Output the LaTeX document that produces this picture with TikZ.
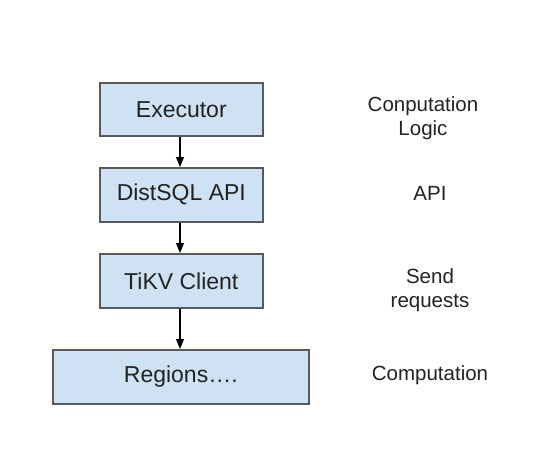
\documentclass[tikz,border=0pt]{standalone}
\usepackage{fontspec}
\setmainfont{Liberation Sans}
\usetikzlibrary{arrows.meta}
\definecolor{boxfill}{HTML}{CFE2F3}
\definecolor{boxline}{HTML}{595959}
\definecolor{txt}{HTML}{222222}
\tikzset{
  layerbox/.style={draw=boxline, line width=1.6pt, fill=boxfill, inner sep=0pt, anchor=north west, text=txt, font=\fontsize{23}{27}\selectfont},
  sidelabel/.style={align=center, text=txt, font=\fontsize{20.5}{23.5}\selectfont, inner sep=0pt},
  flow/.style={-{Triangle[length=10pt,width=8pt]}, line width=1.1pt, black}
}
\begin{document}
\begin{tikzpicture}[x=1pt,y=-1pt]
\useasboundingbox (0,0) rectangle (536,455);
\node[layerbox, minimum width=163pt, minimum height=53pt] (exec) at (99,82) {Executor};
\node[layerbox, minimum width=163pt, minimum height=54pt] (dist) at (99,167) {DistSQL API};
\node[layerbox, minimum width=163pt, minimum height=54pt] (tikv) at (99,253) {TiKV Client};
\node[layerbox, minimum width=256pt, minimum height=54pt] (reg) at (52,349) {Regions\dots.};
\coordinate (a1) at (180,135);
\coordinate (a2) at (180,167);
\coordinate (b1) at (180,221);
\coordinate (b2) at (180,253);
\coordinate (c1) at (180,307);
\coordinate (c2) at (180,349);
\draw[flow] (exec.south -| a1) -- (dist.north -| a2);
\draw[flow] (dist.south -| b1) -- (tikv.north -| b2);
\draw[flow] (tikv.south -| c1) -- (reg.north -| c2);
\node[sidelabel] (l1) at (423,118) {Conputation\\Logic};
\node[sidelabel] (l2) at (430,193) {API};
\node[sidelabel] (l3) at (430,290) {Send\\requests};
\node[sidelabel] (l4) at (430,375) {Computation};
\end{tikzpicture}
\end{document}
